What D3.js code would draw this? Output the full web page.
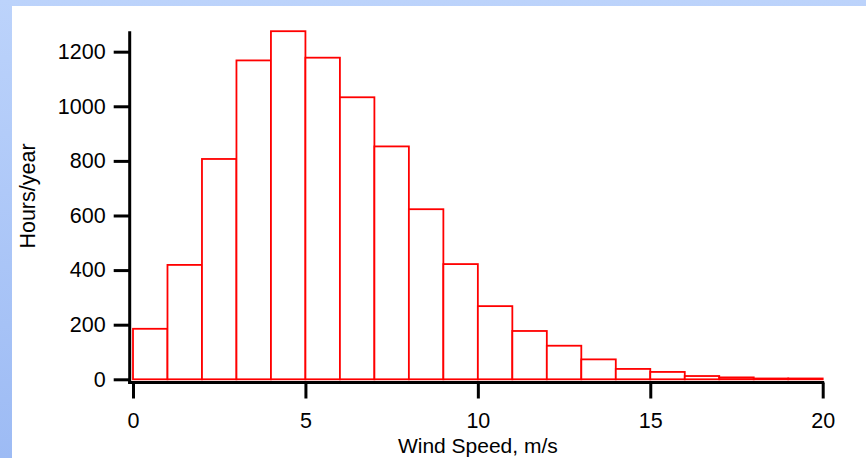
<!DOCTYPE html>
<html>
<head>
<meta charset="utf-8">
<script src="https://cdn.jsdelivr.net/npm/d3@7"></script>
<style>
  html, body { margin: 0; padding: 0; background: #ffffff; }
  svg { display: block; }
  text { font-family: "Liberation Sans", Arial, sans-serif; fill: #000; }
</style>
</head>
<body>
<svg id="chart" width="866" height="458"></svg>
<script>
// Data: hours per year in each 1 m/s wind speed bin
const binStarts = [0, 1, 2, 3, 4, 5, 6, 7, 8, 9, 10, 11, 12, 13, 14, 15, 16, 17, 18, 19];
const hoursPerYear = [185, 419, 807, 1168, 1275, 1178, 1033, 853, 623, 422, 268, 177, 123, 73, 38, 27, 12, 7, 3, 3];
const xTicks = [0, 5, 10, 15, 20];
const yTicks = [0, 200, 400, 600, 800, 1000, 1200];
const xTitle = "Wind Speed, m/s";
const yTitle = "Hours/year";

const svg = d3.select("#chart");
const W = 866, H = 458;
const FS = 21.5;

// background frame
const defs = svg.append("defs");
const grad = defs.append("linearGradient").attr("id", "bg").attr("x1", 0).attr("y1", 0).attr("x2", 0).attr("y2", 1);
grad.append("stop").attr("offset", "0%").attr("stop-color", "#bcd3fb");
grad.append("stop").attr("offset", "100%").attr("stop-color", "#9dbbf4");
svg.append("rect").attr("x", 0).attr("y", 0).attr("width", W).attr("height", H).attr("fill", "url(#bg)");
svg.append("rect").attr("x", 12).attr("y", 6).attr("width", W - 12).attr("height", H - 6).attr("fill", "#ffffff");

const x = d3.scaleLinear().domain([0, 20]).range([133, 822.7]);
const y = d3.scaleLinear().domain([0, 1275]).range([379.3, 31.2]);

// bars
svg.append("g")
  .selectAll("rect")
  .data(binStarts.map((b, i) => ({ b, v: hoursPerYear[i] })))
  .join("rect")
  .attr("x", d => x(d.b))
  .attr("width", d => x(d.b + 1) - x(d.b))
  .attr("y", d => y(d.v))
  .attr("height", d => y(0) - y(d.v))
  .attr("fill", "#ffffff")
  .attr("stroke", "#ff0000")
  .attr("stroke-width", 1.8);

// y axis
const yAxisX = 129.7;
const yAxis = d3.axisLeft(y).tickValues(yTicks).tickFormat(d3.format("d")).tickSize(16).tickPadding(8).tickSizeOuter(0);
const gy = svg.append("g").attr("transform", `translate(${yAxisX},0)`).call(yAxis);
gy.select(".domain").remove();
gy.selectAll(".tick line").attr("stroke", "#000").attr("stroke-width", 3);
gy.selectAll(".tick text").attr("font-size", FS).attr("font-family", "Liberation Sans, Arial, sans-serif").attr("fill", "#000");
svg.append("line").attr("x1", yAxisX).attr("x2", yAxisX).attr("y1", y(1275)).attr("y2", 384)
  .attr("stroke", "#000").attr("stroke-width", 3);

// x axis
const xAxisY = 382.5;
const xAxis = d3.axisBottom(x).tickValues(xTicks).tickFormat(d3.format("d")).tickSize(16).tickPadding(14).tickSizeOuter(0);
const gx = svg.append("g").attr("transform", `translate(0,${xAxisY})`).call(xAxis);
gx.select(".domain").remove();
gx.selectAll(".tick line").attr("stroke", "#000").attr("stroke-width", 3);
gx.selectAll(".tick text").attr("font-size", FS).attr("font-family", "Liberation Sans, Arial, sans-serif").attr("fill", "#000");
svg.append("line").attr("x1", yAxisX - 1.5).attr("x2", x(20) + 1.5).attr("y1", xAxisY).attr("y2", xAxisY)
  .attr("stroke", "#000").attr("stroke-width", 3);

// titles
svg.append("text")
  .attr("x", (x(0) + x(20)) / 2)
  .attr("y", 453)
  .attr("text-anchor", "middle")
  .attr("font-size", 21)
  .text(xTitle);

svg.append("text")
  .attr("transform", "translate(35,196) rotate(-90)")
  .attr("text-anchor", "middle")
  .attr("font-size", FS)
  .text(yTitle);
</script>
</body>
</html>
